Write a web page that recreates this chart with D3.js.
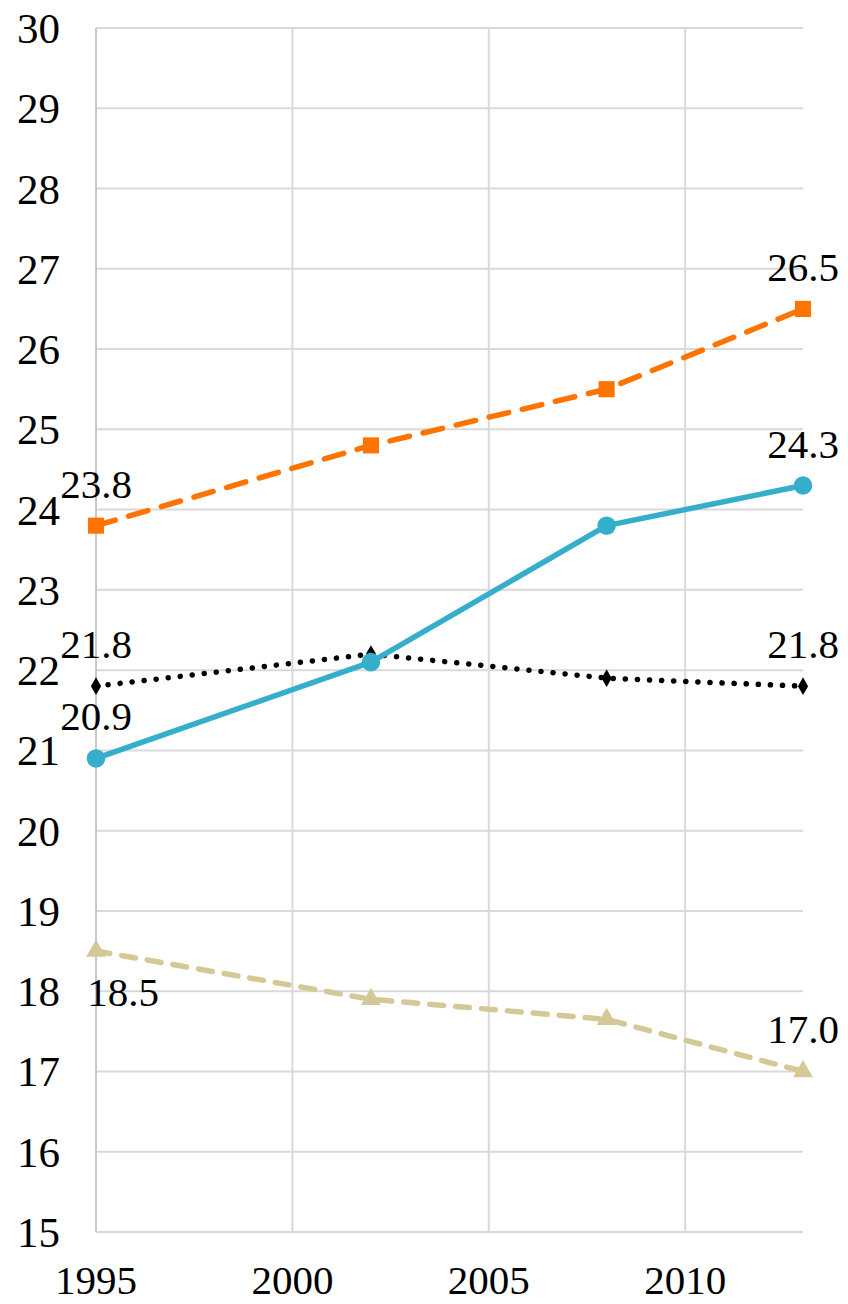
<!DOCTYPE html>
<html>
<head>
<meta charset="utf-8">
<script src="https://cdn.jsdelivr.net/npm/d3@7"></script>
<style>
  html, body { margin: 0; padding: 0; background: #fff; }
  svg { display: block; font-family: "Times New Roman", "Liberation Serif", Times, serif; }
</style>
</head>
<body>
<svg id="chart" width="848" height="1304"></svg>
<script>
// Survey years and series values
const years = [1995, 2002, 2008, 2013];
const seriesOrange = [23.8, 24.8, 25.5, 26.5];
const seriesBlue = [20.9, 22.1, 23.8, 24.3];
const seriesBlack = [21.8, 22.2, 21.9, 21.8];
const seriesTan = [18.5, 17.9, 17.65, 17.0];
const yTicks = d3.range(15, 31, 1);
const xTicks = [1995, 2000, 2005, 2010];

const svg = d3.select("#chart");
const x = d3.scaleLinear().domain([1995, 2013]).range([96, 803]);
const y = d3.scaleLinear().domain([15, 30]).range([1232, 28]);

// gridlines
const grid = svg.append("g");
grid.selectAll("line.h").data(yTicks).join("line")
  .attr("x1", x(1995)).attr("x2", x(2013))
  .attr("y1", d => y(d)).attr("y2", d => y(d))
  .attr("stroke", "#d9d9d9").attr("stroke-width", 2);
grid.selectAll("line.v").data(xTicks).join("line")
  .attr("x1", d => x(d)).attr("x2", d => x(d))
  .attr("y1", y(30)).attr("y2", y(15))
  .attr("stroke", d => d === 1995 ? "#c8c8c8" : "#d9d9d9").attr("stroke-width", 2);

// axis labels
svg.append("g").selectAll("text").data(yTicks).join("text")
  .attr("x", 60).attr("y", d => y(d) + 15)
  .attr("text-anchor", "end").attr("font-size", 43).attr("fill", "#000")
  .text(d => d);
svg.append("g").selectAll("text").data(xTicks).join("text")
  .attr("x", d => x(d)).attr("y", 1294)
  .attr("text-anchor", "middle").attr("font-size", 41).attr("fill", "#000")
  .text(d => d);

// each series: line style, marker, and which points carry a value label
const series = [
  { values: seriesTan, color: "#d4c996", dash: "14 12", marker: d3.symbolTriangle, size: 170, labels: [0, 3], below: { 0: 27 } },
  { values: seriesBlack, color: "#000000", dash: "0.1 12", marker: d3.symbolDiamond, size: 90, labels: [0, 3], below: {} },
  { values: seriesBlue, color: "#35aecb", dash: null, marker: d3.symbolCircle, size: 270, labels: [0, 3], below: {} },
  { values: seriesOrange, color: "#ff7300", dash: "20 14", marker: d3.symbolSquare, size: 260, labels: [0, 3], below: {} }
];

const line = d3.line().x(d => x(d[0])).y(d => y(d[1]));

series.forEach(s => {
  const pts = years.map((yr, i) => [yr, s.values[i]]);
  const g = svg.append("g");
  g.append("path").datum(pts)
    .attr("d", line).attr("fill", "none")
    .attr("stroke", s.color).attr("stroke-width", 5.5)
    .attr("stroke-linecap", "round").attr("stroke-linejoin", "round")
    .attr("stroke-dasharray", s.dash);
  g.selectAll("path.m").data(pts).join("path")
    .attr("transform", d => `translate(${x(d[0])},${y(d[1])})`)
    .attr("d", d3.symbol().type(s.marker).size(s.size))
    .attr("fill", s.color);
  g.selectAll("text").data(s.labels).join("text")
    .attr("x", i => x(years[i]) + (i in s.below ? s.below[i] : 0))
    .attr("y", i => i in s.below ? y(s.values[i]) + 55 : y(s.values[i]) - 28)
    .attr("text-anchor", "middle").attr("font-size", 41).attr("fill", "#000")
    .text(i => s.values[i].toFixed(1));
});
</script>
</body>
</html>
